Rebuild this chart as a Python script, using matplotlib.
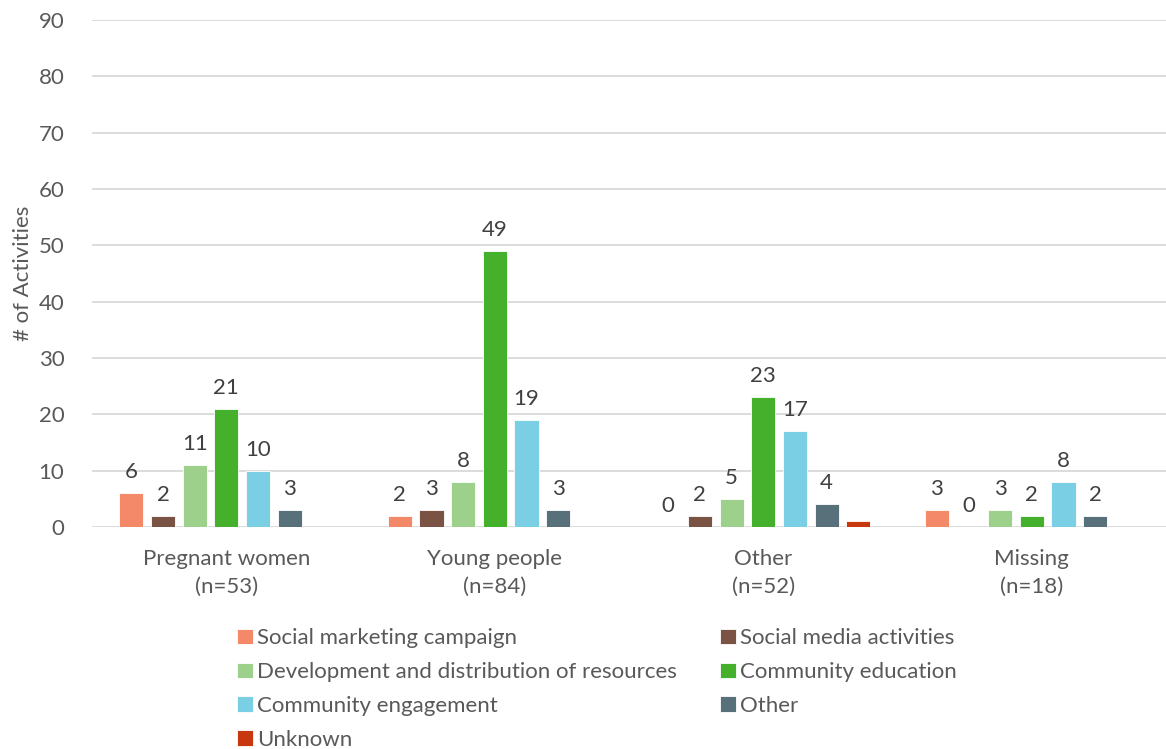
import numpy as np
import matplotlib.pyplot as plt

# data
groups = ['Pregnant women\n(n=53)', 'Young people\n(n=84)', 'Other\n(n=52)', 'Missing\n(n=18)']
series = ['Social marketing campaign', 'Social media activities',
          'Development and distribution of resources', 'Community education',
          'Community engagement', 'Other', 'Unknown']
social_marketing = [6, 2, 0, 3]
social_media = [2, 3, 2, 0]
development = [11, 8, 5, 3]
community_education = [21, 49, 23, 2]
community_engagement = [10, 19, 17, 8]
other = [3, 3, 4, 2]
unknown = [None, None, 1, None]
colors = ['#F4896A', '#7B5344', '#9DD08A', '#45B02B', '#7ACFE4', '#58707A', '#C8380E']

values = [social_marketing, social_media, development, community_education,
          community_engagement, other, unknown]

plt.rcParams['font.family'] = ['Lato', 'DejaVu Sans']
fig = plt.figure(figsize=(11.66, 7.49), dpi=100)
ax = fig.add_axes([0.079, 0.2964, 0.921, 0.677])

x = np.arange(len(groups))
slot = 0.118
width = 0.09
handles = []
for i, (name, vals, c) in enumerate(zip(series, values, colors)):
    pos = x + (i - 3) * slot
    h = [v if v is not None else 0 for v in vals]
    bars = ax.bar(pos, h, width, color=c, edgecolor='white', linewidth=0.6,
                  label=name, zorder=3)
    handles.append(bars)
    if name == 'Unknown':
        continue
    for p, v in zip(pos, vals):
        if v is None:
            continue
        ax.annotate(str(v), (p, v), xytext=(0, 8), textcoords='offset points',
                    ha='center', va='bottom', fontsize=16, color='#404040')

ax.set_xlim(-0.5, len(groups) - 0.5)
ax.set_ylim(0, 90)
ax.set_yticks(range(0, 91, 10))
ax.set_xticks(x)
ax.set_xticklabels(groups, fontsize=16, color='#595959', linespacing=1.5)
ax.tick_params(axis='y', labelsize=16, labelcolor='#595959', length=0, pad=20)
ax.tick_params(axis='x', length=0, pad=16)
ax.grid(axis='y', color='#D9D9D9', linewidth=1.3, zorder=0)
for s in ax.spines.values():
    s.set_visible(False)
ax.set_ylabel('# of Activities', fontsize=16, color='#595959', labelpad=4)

# legend filled column by column, reorder to read row by row
order = [0, 2, 4, 6, 1, 3, 5]
leg = fig.legend([handles[i] for i in order], [series[i] for i in order],
                 ncol=2, loc='upper left', bbox_to_anchor=(0.196, 0.173),
                 frameon=False, fontsize=16, handlelength=0.7, handleheight=0.7,
                 handletextpad=0.2, columnspacing=1.93, labelspacing=0.62,
                 borderaxespad=0)
for t in leg.get_texts():
    t.set_color('#595959')

fig.savefig('out.png', dpi=100)
